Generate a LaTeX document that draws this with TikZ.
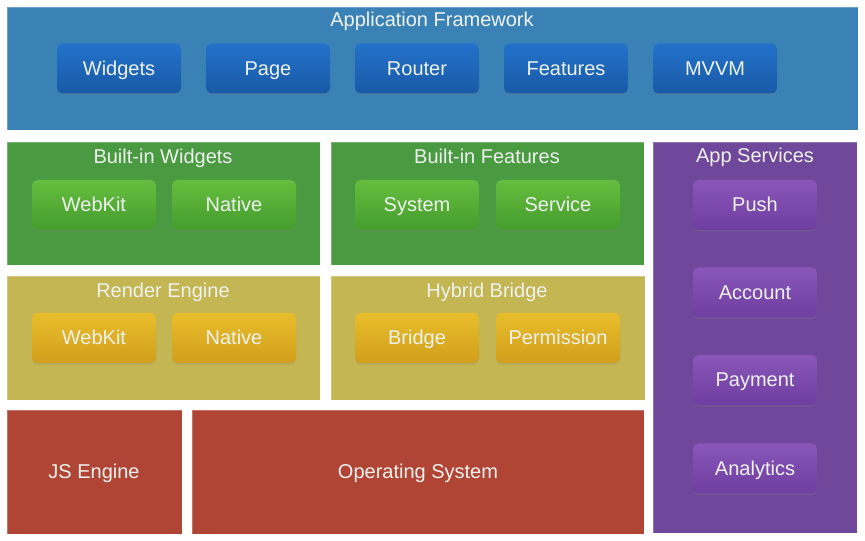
\documentclass[tikz,border=0pt]{standalone}
\usepackage{fontspec}
\setmainfont{Liberation Sans}
\usetikzlibrary{shadows}
\definecolor{bluepanel}{HTML}{3A82B6}
\definecolor{bluetop}{HTML}{2272CA}
\definecolor{bluebot}{HTML}{1A5AA6}
\definecolor{greenpanel}{HTML}{4A9A42}
\definecolor{greentop}{HTML}{66BE3E}
\definecolor{greenbot}{HTML}{449C2E}
\definecolor{yellowpanel}{HTML}{C5B654}
\definecolor{yellowtop}{HTML}{E8BE2C}
\definecolor{yellowbot}{HTML}{D29E1C}
\definecolor{purplepanel}{HTML}{70489B}
\definecolor{purpletop}{HTML}{8A56B9}
\definecolor{purplebot}{HTML}{6E3EA0}
\definecolor{redpanel}{HTML}{B04535}
\definecolor{txt}{HTML}{EEF2EE}
\tikzset{
  lbltext/.style={text=txt, font=\fontsize{15}{17}\selectfont, text height=11pt, text depth=0.5pt},
  btn/.style={lbltext, rounded corners=4pt, minimum width=93pt, minimum height=37.5pt, inner sep=0pt,
    drop shadow={opacity=0.22, shadow xshift=0pt, shadow yshift=-1.2pt}},
  bluebtn/.style={btn, top color=bluetop, bottom color=bluebot},
  greenbtn/.style={btn, top color=greentop, bottom color=greenbot},
  yellowbtn/.style={btn, top color=yellowtop, bottom color=yellowbot},
  purplebtn/.style={btn, top color=purpletop, bottom color=purplebot},
  ttl/.style={lbltext, inner sep=0pt},
  panel/.style={draw=white, draw opacity=0.25, line width=0.6pt},
}
\begin{document}
\begin{tikzpicture}[x=0.75pt, y=-0.75pt]
\useasboundingbox[fill=white] (0,0) rectangle (865,541);
% panels
\path[panel, fill=bluepanel] (7,7) rectangle (858,130);
\path[panel, fill=greenpanel] (7,142) rectangle (320,265);
\path[panel, fill=greenpanel] (331,142) rectangle (644,265);
\path[panel, fill=yellowpanel] (7,276) rectangle (320,400);
\path[panel, fill=yellowpanel] (331,276) rectangle (645,400);
\path[panel, fill=purplepanel] (653,142) rectangle (857,533);
\path[panel, fill=redpanel] (7,410) rectangle (182,534);
\path[panel, fill=redpanel] (192,410) rectangle (644,534);
% titles
\node[ttl] (tAF) at (432,20) {Application Framework};
\node[ttl] (tBW) at (163,157) {Built-in Widgets};
\node[ttl] (tBF) at (487,157) {Built-in Features};
\node[ttl] (tRE) at (163,291) {Render Engine};
\node[ttl] (tHB) at (487,291) {Hybrid Bridge};
\node[ttl] (tAS) at (755,156) {App Services};
\node[ttl] (tJS) at (94,472) {JS Engine};
\node[ttl] (tOS) at (418,472) {Operating System};
% blue buttons
\node[bluebtn] (widgets) at (119,68.5) {Widgets};
\node[bluebtn] (page) at (268,68.5) {Page};
\node[bluebtn] (router) at (417,68.5) {Router};
\node[bluebtn] (features) at (566,68.5) {Features};
\node[bluebtn] (mvvm) at (715,68.5) {MVVM};
% green buttons
\node[greenbtn] (bwweb) at (94,205) {WebKit};
\node[greenbtn] (bwnat) at (234,205) {Native};
\node[greenbtn] (system) at (417,205) {System};
\node[greenbtn] (service) at (558,205) {Service};
% yellow buttons
\node[yellowbtn] (reweb) at (94,338) {WebKit};
\node[yellowbtn] (renat) at (234,338) {Native};
\node[yellowbtn] (bridge) at (417,338) {Bridge};
\node[yellowbtn] (perm) at (558,338) {Permission};
% purple buttons
\node[purplebtn] (push) at (755,205) {Push};
\node[purplebtn] (account) at (755,292.5) {Account};
\node[purplebtn] (payment) at (755,380) {Payment};
\node[purplebtn] (analytics) at (755,468.5) {Analytics};
\end{tikzpicture}
\end{document}
